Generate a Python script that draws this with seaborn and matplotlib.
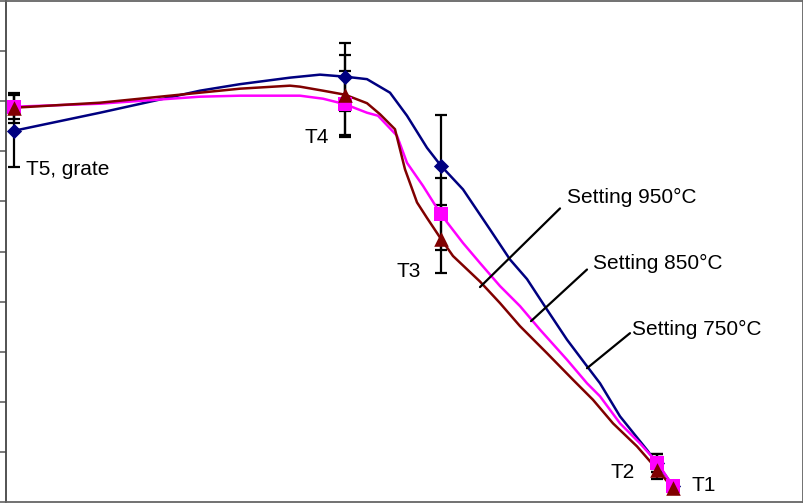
import numpy as np
import pandas as pd
import matplotlib
matplotlib.use("Agg")
import matplotlib.pyplot as plt
import seaborn as sns

# Curve samples (x = position, y = temperature scale 0-1000)
x_750 = [8, 94, 194, 234, 284, 314, 339, 361, 384, 401, 421, 435, 457, 484,
         504, 521, 541, 561, 581, 594, 614, 641, 651, 667]
y_750 = [741, 777, 821, 834, 847, 853, 849, 844, 817, 771, 707, 671, 624, 544,
         484, 445, 384, 324, 271, 237, 171, 104, 77, 32]

x_850 = [8, 94, 194, 234, 294, 317, 339, 361, 372, 391, 401, 417, 435, 457,
         474, 494, 514, 534, 561, 581, 594, 614, 634, 652, 667]
y_850 = [789, 795, 809, 811, 811, 805, 794, 777, 771, 731, 677, 631, 574, 517,
         477, 431, 391, 344, 284, 237, 211, 157, 117, 77, 31]

x_950 = [8, 94, 194, 234, 284, 294, 317, 339, 361, 374, 389, 399, 411, 421,
         435, 447, 474, 494, 514, 541, 567, 587, 607, 631, 652, 667]
y_950 = [787, 797, 817, 825, 831, 829, 821, 813, 796, 774, 744, 664, 598, 567,
         525, 491, 440, 397, 351, 297, 244, 204, 157, 111, 63, 27]

# Measurement points T5 (grate), T4, T3, T2, T1
point_names = ["T5, grate", "T4", "T3", "T2", "T1"]
point_x = [8, 339, 435, 651, 667]
pts_750 = [741, 849, 671, 78, 32]
pts_850 = [789, 794, 574, 77, 31]
pts_950 = [787, 813, 525, 63, 27]
err_750 = [73, 68, 102, 18, 6]
err_850 = [24, 66, 72, 18, 6]
err_950 = [30, 80, 68, 18, 6]

label_pos = [(20, 652), (299, 717), (391, 449), (605, 47), (686, 22)]

sns.set_style("white")
plt.rcParams["font.family"] = ["Liberation Sans", "DejaVu Sans"]
plt.rcParams["text.color"] = "black"

fig = plt.figure(figsize=(8.04, 5.03), dpi=100)
ax = fig.add_axes([6 / 804, 1 / 503, 797 / 804, 501 / 503])

series = [
    (x_750, y_750, pts_750, err_750, "#000080", "D", 60),
    (x_850, y_850, pts_850, err_850, "#FF00FF", "s", 95),
    (x_950, y_950, pts_950, err_950, "#800000", "^", 110),
]

for xs, ys, pts, err, col, mk, sz in series:
    ax.errorbar(point_x, pts, yerr=err, fmt="none", ecolor="black",
                elinewidth=1.6, capsize=4.5, capthick=1.6, zorder=2)
for xs, ys, pts, err, col, mk, sz in series:
    sns.lineplot(x=xs, y=ys, ax=ax, color=col, linewidth=1.8,
                 sort=False, estimator=None, zorder=3)
    sns.scatterplot(x=point_x, y=pts, ax=ax, color=col, marker=mk, s=sz,
                    edgecolor=col, linewidth=0, zorder=4)

for name, (lx, ly) in zip(point_names, label_pos):
    ax.text(lx, ly, name, fontsize=15, ha="left", va="baseline", color="black")

# leader lines for the settings
leaders = [
    ("Setting 950\u00b0C", (561, 597), (554, 586), (474, 429)),
    ("Setting 850\u00b0C", (587, 465), (581, 464), (525, 361)),
    ("Setting 750\u00b0C", (626, 334), (624, 337), (581, 267)),
]
for txt, tpos, start, end in leaders:
    ax.text(tpos[0], tpos[1], txt, fontsize=15, ha="left", va="baseline",
            color="black")
    ax.annotate("", xy=end, xytext=start,
                arrowprops=dict(arrowstyle="-", color="black", lw=1.6,
                                shrinkA=0, shrinkB=0))

ax.set_xlim(0, 797)
ax.set_ylim(0, 1000)
ax.set_yticks(np.arange(0, 1001, 100))
ax.set_yticklabels([])
ax.set_xticks([])
ax.tick_params(axis="y", direction="out", length=4.3, width=1.1,
               color="#555555", left=True)
for side in ["left", "bottom", "top", "right"]:
    ax.spines[side].set_visible(True)
    ax.spines[side].set_linewidth(1.3)
    ax.spines[side].set_color("#666666")
ax.spines["left"].set_color("#444444")

fig.savefig("out.png", dpi=100)
